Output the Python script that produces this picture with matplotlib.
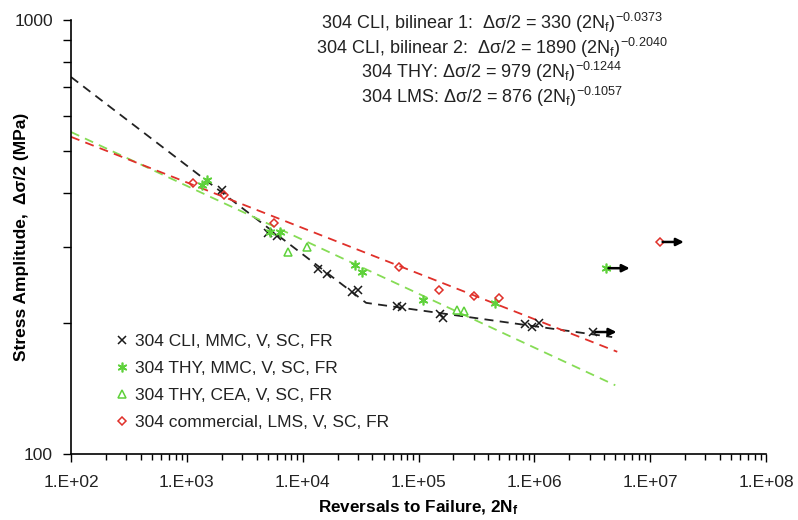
import numpy as np
import matplotlib
matplotlib.use('Agg')
import matplotlib.pyplot as plt

plt.rcParams['font.family'] = ['Liberation Sans', 'DejaVu Sans']
plt.rcParams['mathtext.fontset'] = 'custom'
plt.rcParams['mathtext.rm'] = 'Liberation Sans'
plt.rcParams['mathtext.it'] = 'Liberation Sans:italic'
plt.rcParams['mathtext.bf'] = 'Liberation Sans:bold'

# --- data ---
cli_n = [2000, 5000, 6000, 13500, 16200, 26700, 30000, 65000, 72000,
         153000, 163000, 830000, 955000, 1.1e6]
cli_s = [405, 323, 318, 267, 260, 236, 239, 219, 218, 210, 206, 199.5, 196, 200]
cli_runout_n = [3.2e6]
cli_runout_s = [191]

thy_mmc_n = [1350, 1490, 5200, 6400, 28300, 32500, 109000, 457000]
thy_mmc_s = [417, 428, 325, 325, 272, 262, 226, 223]
thy_mmc_runout_n = [4.16e6]
thy_mmc_runout_s = [268]

thy_cea_n = [7460, 10900, 215000, 247000]
thy_cea_s = [292, 300, 215, 213]

lms_n = [1130, 2100, 5660, 67900, 150000, 301000, 496000]
lms_s = [421, 395, 341, 270, 239, 231, 229]
lms_runout_n = [1.22e7]
lms_runout_s = [308]

# fit lines (end points / kink)
cli_fit_n = [1e2, 3.53e4, 4.7e6]
cli_fit_s = [739, 223, 186]
thy_fit_n = [1e2, 5.0e6]
thy_fit_s = [552, 144]
lms_fit_n = [1e2, 5.2e6]
lms_fit_s = [538, 172]

fit_labels = [
    r'304 CLI, bilinear 1:  Δσ/2 = 330 (2N$_\mathrm{f}$)$^{\mathrm{-0.0373}}$',
    r'304 CLI, bilinear 2:  Δσ/2 = 1890 (2N$_\mathrm{f}$)$^{\mathrm{-0.2040}}$',
    r'304 THY: Δσ/2 = 979 (2N$_\mathrm{f}$)$^{\mathrm{-0.1244}}$',
    r'304 LMS: Δσ/2 = 876 (2N$_\mathrm{f}$)$^{\mathrm{-0.1057}}$',
]
x_ticks = [1e2, 1e3, 1e4, 1e5, 1e6, 1e7, 1e8]
x_tick_labels = ['1.E+02', '1.E+03', '1.E+04', '1.E+05', '1.E+06', '1.E+07', '1.E+08']

GREEN = '#5ed13a'
GREEN_LINE = '#86dc55'
RED = '#e0302a'
BLACK = '#1a1a1a'

fig = plt.figure(figsize=(7.98, 5.2), dpi=100)
ax = fig.add_axes([71 / 798, 1 - 454 / 520, 695 / 798, 434 / 520])

dash = (0, (5, 3.5))
ax.plot(cli_fit_n, cli_fit_s, color='#222222', lw=1.3, linestyle=dash)
ax.plot(thy_fit_n, thy_fit_s, color=GREEN_LINE, lw=1.3, linestyle=dash)
ax.plot(lms_fit_n, lms_fit_s, color=RED, lw=1.3, linestyle=dash)

ax.plot(cli_n + cli_runout_n, cli_s + cli_runout_s, linestyle='none', marker='x',
        ms=6, mew=1.1, color=BLACK, label='304 CLI, MMC, V, SC, FR')
ax.plot(thy_mmc_n + thy_mmc_runout_n, thy_mmc_s + thy_mmc_runout_s, linestyle='none',
        marker=(6, 2, 0), ms=7, mew=1.2, color=GREEN, label='304 THY, MMC, V, SC, FR')
ax.plot(thy_cea_n, thy_cea_s, linestyle='none', marker='^', ms=6, mew=1.1,
        mfc='none', mec=GREEN, label='304 THY, CEA, V, SC, FR')
ax.plot(lms_n + lms_runout_n, lms_s + lms_runout_s, linestyle='none', marker='D',
        ms=4.5, mew=1.1, mfc='none', mec=RED, label='304 commercial, LMS, V, SC, FR')

# runout arrows
for n, s in zip(cli_runout_n + thy_mmc_runout_n + lms_runout_n,
                cli_runout_s + thy_mmc_runout_s + lms_runout_s):
    ax.annotate('', xy=(n * 1.6, s), xytext=(n * 1.05, s),
                arrowprops=dict(arrowstyle='-|>', color='black', lw=1.8,
                                mutation_scale=11, shrinkA=0, shrinkB=0))

ax.set_xscale('log')
ax.set_yscale('log')
ax.set_xlim(1e2, 1e8)
ax.set_ylim(100, 1000)

ax.set_xticks(x_ticks)
ax.set_xticklabels(x_tick_labels)
ax.set_yticks([100, 1000])
ax.set_yticklabels(['100', '1000'])
ax.set_yticks(np.arange(200, 1000, 100), minor=True)
ax.yaxis.set_minor_formatter(matplotlib.ticker.NullFormatter())
ax.xaxis.set_minor_locator(matplotlib.ticker.LogLocator(base=10, subs=np.arange(2, 10)))
ax.xaxis.set_minor_formatter(matplotlib.ticker.NullFormatter())

ax.tick_params(axis='both', which='both', direction='out', colors='black',
               labelsize=12.5, labelcolor='#222222', width=1)
ax.tick_params(axis='x', which='major', length=6, pad=9)
ax.tick_params(axis='x', which='minor', length=4)
ax.tick_params(axis='y', which='major', length=6, pad=7)
ax.tick_params(axis='y', which='minor', length=6)

for side in ['top', 'right']:
    ax.spines[side].set_visible(False)
for side in ['left', 'bottom']:
    ax.spines[side].set_linewidth(1.2)

ax.set_xlabel(r'Reversals to Failure, 2N$_\mathbf{f}$', fontsize=12.3,
              fontweight='bold')
ax.xaxis.set_label_coords(0.5, -(499 - 454) / 434)
ax.set_ylabel('Stress Amplitude,  Δσ/2 (MPa)', fontsize=12.5, fontweight='bold')
ax.yaxis.set_label_coords(-(71 - 29) / 695, 0.5)

leg = ax.legend(loc='lower left', bbox_to_anchor=(0.055, 0.04), frameon=False,
                fontsize=12.5, handlelength=0.7, handletextpad=0.4,
                labelspacing=0.68, borderaxespad=0)
for t in leg.get_texts():
    t.set_color('#222222')

for i, label in enumerate(fit_labels):
    fig.text(492 / 798, 1 - (23 + i * 24.5) / 520, label, ha='center', va='center',
             fontsize=13, color='#222222')

fig.savefig('out.png', dpi=100, facecolor='white')
